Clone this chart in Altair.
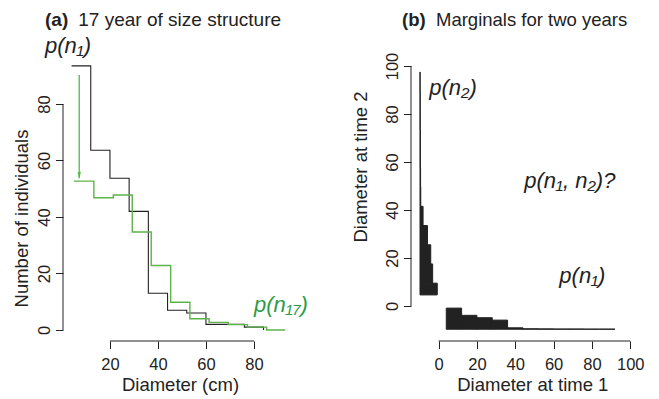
import altair as alt
import pandas as pd

# ---------------- data ----------------
# Panel (a): size structure, year 1 (black) and year 17 (green)
black_x = [4, 12, 20, 28, 36, 44, 52, 60, 68, 76, 84]
black_y = [93.5, 63.6, 53.7, 42, 13, 7, 6, 2, 2, 1, 0]
green_x = [5, 13.3, 21.4, 29.3, 37.2, 45.3, 53.3, 61.3, 69.3, 77.3, 85.3, 93]
green_y = [52.7, 46.8, 47.8, 34.7, 22.8, 9.8, 4, 2.7, 1.9, 1, 0, 0]
arrow_x = [7.2]
arrow_top = [90.3]
arrow_tip = [53.7]
a_xticks = [20, 40, 60, 80]
a_yticks = [0, 20, 40, 60, 80]

# Panel (b): marginal histograms
n2_edges = [4.6, 9.5, 17.5, 25.5, 33.5, 41.5, 49.5, 57.5, 65.5, 73.5, 81.5, 89.5, 97.5]
n2_counts = [90, 66, 56, 39, 16, 4, 3, 2, 2, 1, 1, 0.5]
n1_edges = [4, 12, 20, 28, 36, 44, 52, 60, 68, 76, 84, 92]
n1_counts = [88, 58, 48, 38, 6, 2, 1.5, 1, 1, 0.5, 0.5]
hist_base = -9.7
hist_scale = 0.1
b_ticks = [0, 20, 40, 60, 80, 100]

FONT = "Liberation Sans"
INK = "#222222"
GREEN_LINE = "#5cb349"
GREEN_TEXT = "#2e9a47"
GREEN_ARROW = "#4cbb3f"

# ---------------- panel (a) ----------------
ax_scale = alt.Scale(domain=[0.44, 96.56], nice=False, zero=False)
ay_scale = alt.Scale(domain=[-3.9, 97.34], nice=False, zero=False)
ax_axis = alt.Axis(values=a_xticks, domain=False, grid=False, tickSize=7.5,
                   labelPadding=7.5, format="d",
                   title="Diameter (cm)", titleX=117, titleY=49.7,
                   titleAlign="center", titleBaseline="alphabetic")
ay_axis = alt.Axis(values=a_yticks, domain=False, grid=False, tickSize=7.5,
                   labelPadding=6.5, labelAngle=-90, labelAlign="center",
                   labelBaseline="alphabetic", format="d",
                   title="Number of individuals", titleX=-36, titleY=163,
                   titleAngle=-90, titleAlign="center",
                   titleBaseline="alphabetic")


def AX(f):
    return alt.X(f, scale=ax_scale, axis=ax_axis, title="Diameter (cm)")


def AY(f):
    return alt.Y(f, scale=ay_scale, axis=ay_axis, title="Number of individuals")


black_df = pd.DataFrame({"x": black_x, "y": black_y})
green_df = pd.DataFrame({"x": green_x, "y": green_y})

a_black = alt.Chart(black_df).mark_line(
    interpolate="step-after", color=INK, strokeWidth=1.1
).encode(x=AX("x:Q"), y=AY("y:Q"))

a_green = alt.Chart(green_df).mark_line(
    interpolate="step-after", color=GREEN_LINE, strokeWidth=1.4
).encode(x=AX("x:Q"), y=AY("y:Q"))

arrow_df = pd.DataFrame({"x": arrow_x, "top": arrow_top, "tip": arrow_tip})
a_arrow = alt.Chart(arrow_df).mark_rule(color=GREEN_ARROW, strokeWidth=1.3).encode(
    x=AX("x:Q"), y=AY("top:Q"), y2="tip:Q",
)
a_head = alt.Chart(arrow_df).mark_point(
    shape="M-0.55,-2L0,0L0.55,-2L0,-1.6Z", filled=True, color=GREEN_ARROW,
    size=45, opacity=1
).encode(x=AX("x:Q"), y=AY("tip:Q"))

a_yline = alt.Chart(pd.DataFrame({"lo": [min(a_yticks)], "hi": [max(a_yticks)]})).mark_rule(
    color=INK, strokeWidth=1
).encode(x=alt.value(0), y=AY("lo:Q"), y2="hi:Q")
a_xline = alt.Chart(pd.DataFrame({"lo": [min(a_xticks)], "hi": [max(a_xticks)]})).mark_rule(
    color=INK, strokeWidth=1
).encode(y=alt.value(286), x=AX("lo:Q"), x2="hi:Q")

a_labels = alt.Chart(pd.DataFrame({
    "x": [-7.1, 80.0], "y": [98.0, 6.4],
    "t": ["p(n\u2081)", "p(n\u2081\u2087)"], "c": [INK, GREEN_TEXT]})
).mark_text(align="left", baseline="alphabetic", font=FONT, fontSize=22,
            fontStyle="italic").encode(
    x=AX("x:Q"), y=AY("y:Q"),
    text="t:N",
    color=alt.Color("c:N", scale=None),
)

a_title_bold = alt.Chart(pd.DataFrame({"t": ["(a)"]})).mark_text(
    align="left", baseline="alphabetic", font=FONT, fontSize=19,
    fontWeight="bold", color=INK
).encode(x=alt.value(-18), y=alt.value(-29.5), text="t:N")
a_title = alt.Chart(pd.DataFrame({"t": ["17 year of size structure"]})).mark_text(
    align="left", baseline="alphabetic", font=FONT, fontSize=19, color=INK
).encode(x=alt.value(15.3), y=alt.value(-29.5), text="t:N")

panel_a = alt.layer(
    a_black, a_green, a_arrow, a_head, a_yline, a_xline, a_labels,
    a_title_bold, a_title
).properties(width=230.7, height=286)

# ---------------- panel (b) ----------------
bx_scale = alt.Scale(domain=[-14.4, 104.4], nice=False, zero=False)
by_scale = alt.Scale(domain=[-14.6, 104.57], nice=False, zero=False)
bx_axis = alt.Axis(values=b_ticks, domain=False, grid=False, tickSize=7.5,
                   labelPadding=7.5, format="d",
                   title="Diameter at time 1", titleX=121.3, titleY=49.7,
                   titleAlign="center", titleBaseline="alphabetic")
by_axis = alt.Axis(values=b_ticks, domain=False, grid=False, tickSize=7.5,
                   labelPadding=6.5, labelAngle=-90, labelAlign="center",
                   labelBaseline="alphabetic", format="d",
                   title="Diameter at time 2", titleX=-45, titleY=111.5,
                   titleAngle=-90, titleAlign="center",
                   titleBaseline="alphabetic")


def BX(f):
    return alt.X(f, scale=bx_scale, axis=bx_axis, title="Diameter at time 1")


def BY(f):
    return alt.Y(f, scale=by_scale, axis=by_axis, title="Diameter at time 2")


n2_df = pd.DataFrame({
    "y0": n2_edges[:-1], "y1": n2_edges[1:],
    "x0": [hist_base] * len(n2_counts),
    "x1": [hist_base + c * hist_scale for c in n2_counts],
})
n1_df = pd.DataFrame({
    "x0": n1_edges[:-1], "x1": n1_edges[1:],
    "y0": [hist_base] * len(n1_counts),
    "y1": [hist_base + c * hist_scale for c in n1_counts],
})

b_n2 = alt.Chart(n2_df).mark_rect(color=INK, stroke=INK, strokeWidth=1).encode(
    x=BX("x0:Q"), x2="x1:Q", y=BY("y0:Q"), y2="y1:Q",
)
b_n1 = alt.Chart(n1_df).mark_rect(color=INK, stroke=INK, strokeWidth=1).encode(
    x=BX("x0:Q"), x2="x1:Q", y=BY("y0:Q"), y2="y1:Q",
)

b_yline = alt.Chart(pd.DataFrame({"lo": [min(b_ticks)], "hi": [max(b_ticks)]})).mark_rule(
    color=INK, strokeWidth=1
).encode(x=alt.value(0), y=BY("lo:Q"), y2="hi:Q")
b_xline = alt.Chart(pd.DataFrame({"lo": [min(b_ticks)], "hi": [max(b_ticks)]})).mark_rule(
    color=INK, strokeWidth=1
).encode(y=alt.value(286), x=BX("lo:Q"), x2="hi:Q")

b_labels = alt.Chart(pd.DataFrame({
    "x": [-4.9, 44.7, 63.0], "y": [87.9, 49.2, 9.6],
    "t": ["p(n\u2082)", "p(n\u2081, n\u2082)?", "p(n\u2081)"]})
).mark_text(align="left", baseline="alphabetic", font=FONT, fontSize=22,
            fontStyle="italic", color=INK).encode(
    x=BX("x:Q"), y=BY("y:Q"), text="t:N",
)

b_title_bold = alt.Chart(pd.DataFrame({"t": ["(b)"]})).mark_text(
    align="left", baseline="alphabetic", font=FONT, fontSize=18.5,
    fontWeight="bold", color=INK
).encode(x=alt.value(-9), y=alt.value(-29.5), text="t:N")
b_title = alt.Chart(pd.DataFrame({"t": ["Marginals for two years"]})).mark_text(
    align="left", baseline="alphabetic", font=FONT, fontSize=18.5, color=INK
).encode(x=alt.value(25), y=alt.value(-29.5), text="t:N")

panel_b = alt.layer(
    b_n2, b_n1, b_yline, b_xline, b_labels, b_title_bold, b_title
).properties(width=227.7, height=286)

chart = alt.hconcat(panel_a, panel_b, spacing=117, bounds="flush").properties(
    padding={"left": 4, "top": 2, "right": 2, "bottom": 0}
).configure_view(stroke=None).configure_axis(
    labelFont=FONT, labelFontSize=16.5, labelColor=INK,
    titleFont=FONT, titleFontSize=18.5, titleFontWeight="normal", titleColor=INK,
    tickColor=INK, tickWidth=1,
)

chart.save("out.html", embed_options={"renderer": "svg", "actions": False})
